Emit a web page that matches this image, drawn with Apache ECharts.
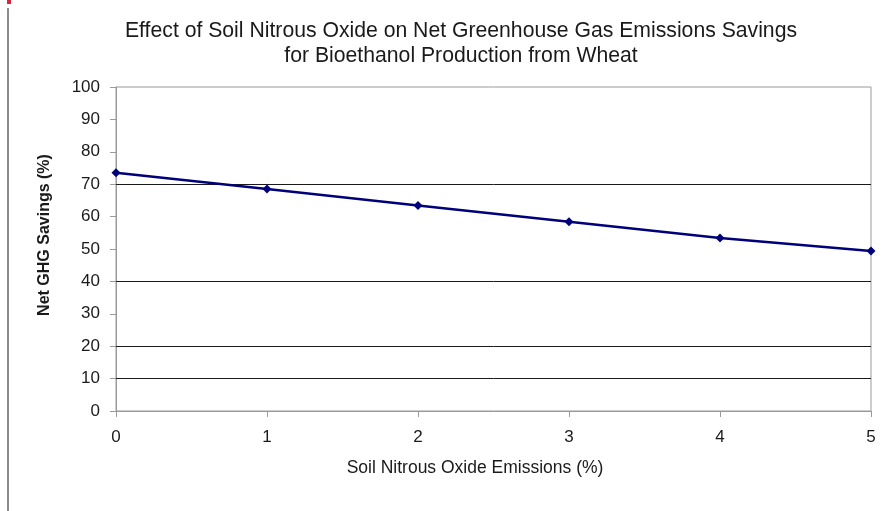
<!DOCTYPE html>
<html>
<head>
<meta charset="utf-8">
<script src="https://cdn.jsdelivr.net/npm/echarts@6/dist/echarts.min.js"></script>
<style>
  html, body { margin: 0; padding: 0; background: #fff; }
  #chart { width: 892px; height: 511px; }
</style>
</head>
<body>
<div id="chart"></div>
<script>
// Soil N2O emission factor (%) against net GHG savings (%)
const n2oEmissions = [0, 1, 2, 3, 4, 5];
const ghgSavings = [73.5, 68.5, 63.4, 58.4, 53.4, 49.4];
const yTicks = [0, 10, 20, 30, 40, 50, 60, 70, 80, 90, 100];
const drawnGridLines = [70, 40, 20, 10];

const FONT = '"Liberation Sans", Arial, sans-serif';
const chart = echarts.init(document.getElementById('chart'), null, { renderer: 'canvas' });

chart.setOption({
  animation: false,
  backgroundColor: '#ffffff',
  title: {
    text: 'Effect of Soil Nitrous Oxide on Net Greenhouse Gas Emissions Savings\nfor Bioethanol Production from Wheat',
    left: 456,
    top: 14,
    textAlign: 'center',
    textStyle: { fontFamily: FONT, fontSize: 21.2, fontWeight: 'normal', color: '#1a1a1a', lineHeight: 25 }
  },
  grid: { left: 116, right: 21, top: 87, bottom: 100, show: true, borderColor: '#9a9a9a', borderWidth: 1 },
  xAxis: {
    type: 'value',
    min: 0, max: 5, interval: 1,
    axisLine: { show: true, lineStyle: { color: '#9a9a9a', width: 1 } },
    axisTick: { show: true, length: 6, lineStyle: { color: '#9a9a9a' } },
    axisLabel: { fontFamily: FONT, fontSize: 17, color: '#1a1a1a', margin: 18 },
    splitLine: { show: false }
  },
  yAxis: {
    type: 'value',
    min: yTicks[0], max: yTicks[yTicks.length - 1], interval: 10,
    axisLine: { show: true, lineStyle: { color: '#9a9a9a', width: 1 } },
    axisTick: { show: true, inside: false, length: 6, lineStyle: { color: '#9a9a9a' } },
    axisLabel: { fontFamily: FONT, fontSize: 17, color: '#1a1a1a', margin: 16 },
    splitLine: { show: false }
  },
  graphic: [
    { type: 'rect', shape: { x: 7, y: 0, width: 4, height: 4 }, style: { fill: '#d8243c' } },
    { type: 'rect', shape: { x: 7, y: 8, width: 2, height: 503 }, style: { fill: '#8c8c8c' } },
    {
      type: 'text', x: 45, y: 235, rotation: Math.PI / 2,
      style: {
        text: 'Net GHG Savings (%)', font: 'bold 16px ' + FONT, fill: '#1a1a1a',
        textAlign: 'center', textVerticalAlign: 'middle'
      }
    },
    {
      type: 'text', x: 475, y: 468,
      style: {
        text: 'Soil Nitrous Oxide Emissions (%)', font: '17.5px ' + FONT, fill: '#1a1a1a',
        textAlign: 'center', textVerticalAlign: 'middle'
      }
    }
  ],
  series: [{
    type: 'line',
    data: n2oEmissions.map((x, i) => [x, ghgSavings[i]]),
    symbol: 'diamond',
    symbolSize: 9,
    lineStyle: { color: '#00007a', width: 2.5 },
    itemStyle: { color: '#00007a' },
    z: 5,
    markLine: {
      silent: true,
      symbol: 'none',
      label: { show: false },
      lineStyle: { color: '#1a1a1a', width: 1, type: 'solid' },
      data: drawnGridLines.map(v => ({ yAxis: v })),
      z: 1
    }
  }]
});
</script>
</body>
</html>
